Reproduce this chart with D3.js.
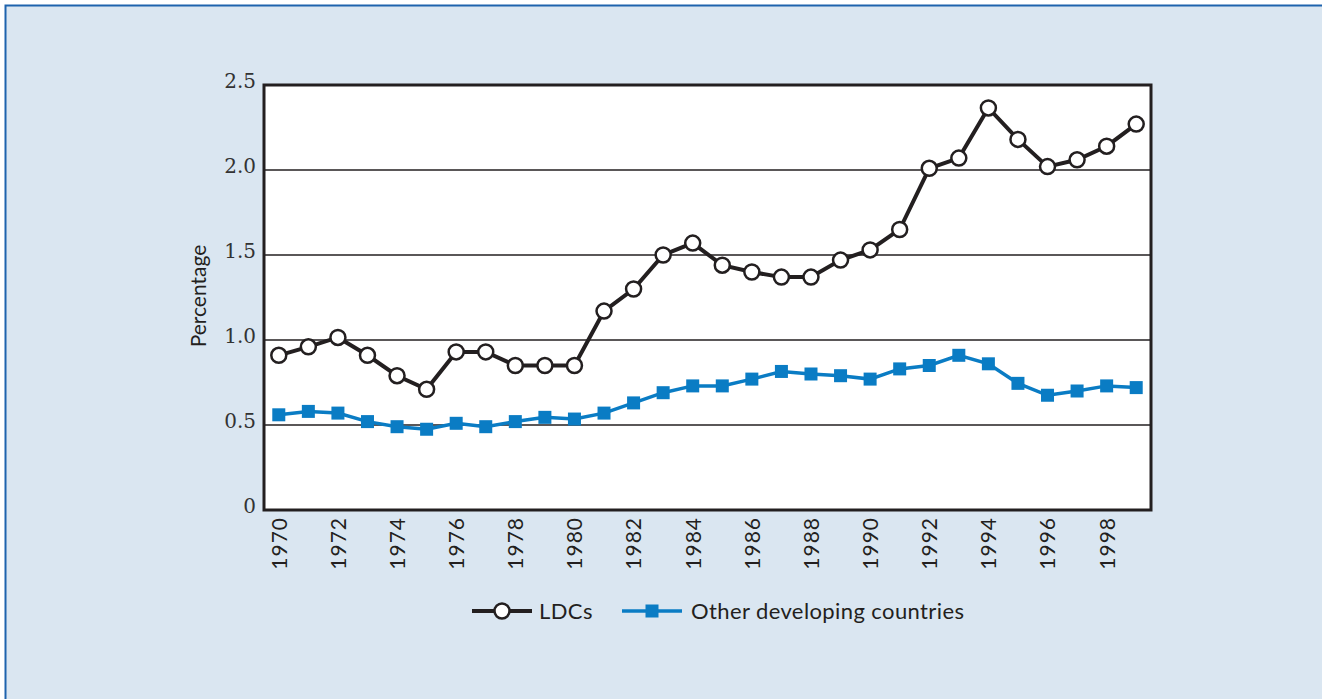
<!DOCTYPE html>
<html>
<head>
<meta charset="utf-8">
<script src="https://cdn.jsdelivr.net/npm/d3@7"></script>
<style>
  body { margin: 0; background: #ffffff; }
  text { font-family: Lato, "Open Sans", sans-serif; fill: #231f20; }
</style>
</head>
<body>
<svg id="chart" width="1322" height="699"></svg>
<script>
// data
var years = d3.range(1970, 2000);
var ldcs = [0.91, 0.96, 1.015, 0.91, 0.79, 0.71, 0.93, 0.93, 0.85, 0.85,
            0.85, 1.17, 1.30, 1.50, 1.57, 1.44, 1.40, 1.37, 1.37, 1.47,
            1.53, 1.65, 2.01, 2.07, 2.365, 2.18, 2.02, 2.06, 2.14, 2.27];
var others = [0.56, 0.58, 0.57, 0.52, 0.49, 0.475, 0.51, 0.49, 0.52, 0.545,
              0.535, 0.57, 0.63, 0.69, 0.73, 0.73, 0.77, 0.815, 0.80, 0.79,
              0.77, 0.83, 0.85, 0.91, 0.86, 0.745, 0.675, 0.70, 0.73, 0.72];
var yTicks = [0, 0.5, 1.0, 1.5, 2.0, 2.5];
var xTicks = d3.range(1970, 1999, 2);
var legendNames = ["LDCs", "Other developing countries"];

var svg = d3.select("#chart");

// panel
svg.append("rect").attr("x", 5).attr("y", 5).attr("width", 1317).attr("height", 694)
    .attr("fill", "#dae6f1");
svg.append("path").attr("d", "M5.5,699V5.5H1322")
    .attr("fill", "none").attr("stroke", "#1e63ad").attr("stroke-width", 2);

var pLeft = 264, pTop = 85, pRight = 1151, pBottom = 510;

var x = d3.scaleLinear().domain([1969.5, 1999.5]).range([pLeft, pRight]);
var y = d3.scaleLinear().domain([0, 2.5]).range([pBottom, pTop]);

svg.append("rect").attr("x", pLeft).attr("y", pTop)
    .attr("width", pRight - pLeft).attr("height", pBottom - pTop).attr("fill", "#ffffff");

// gridlines
svg.append("g").selectAll("line").data(yTicks.slice(1, -1)).enter().append("line")
    .attr("x1", pLeft).attr("x2", pRight)
    .attr("y1", d => y(d)).attr("y2", d => y(d))
    .attr("stroke", "#231f20").attr("stroke-width", 1.3);

// y axis labels
var yAxis = d3.axisLeft(y).tickValues(yTicks).tickSize(0).tickPadding(8)
    .tickFormat(d => d === 0 ? "0" : d3.format(".1f")(d));
var gy = svg.append("g").attr("transform", "translate(" + pLeft + ",0)").call(yAxis);
gy.select(".domain").remove();
gy.selectAll("text").attr("font-size", 20).attr("dy", "0.1em")
    .style("font-family", "'DejaVu Serif', serif").style("fill", "#333");

// x axis labels
var xAxis = d3.axisBottom(x).tickValues(xTicks).tickSize(0).tickFormat(d3.format("d"));
var gx = svg.append("g").attr("transform", "translate(0," + pBottom + ")").call(xAxis);
gx.select(".domain").remove();
gx.selectAll("text")
    .attr("font-size", 21)
    .attr("letter-spacing", 1)
    .attr("transform", "rotate(-90)")
    .attr("text-anchor", "end")
    .attr("x", -7).attr("y", 0).attr("dy", "0.35em");

// frame
svg.append("rect").attr("x", pLeft).attr("y", pTop)
    .attr("width", pRight - pLeft).attr("height", pBottom - pTop)
    .attr("fill", "none").attr("stroke", "#231f20").attr("stroke-width", 3);

svg.append("text").attr("transform", "translate(206,296) rotate(-90)")
    .attr("text-anchor", "middle").attr("font-size", 21).text("Percentage");

var line = d3.line().x((d, i) => x(years[i])).y(d => y(d));

// other developing countries
svg.append("path").datum(others).attr("d", line)
    .attr("fill", "none").attr("stroke", "#0a7cc4").attr("stroke-width", 3.5);
svg.append("g").selectAll("rect").data(others).enter().append("rect")
    .attr("x", (d, i) => x(years[i]) - 6.5).attr("y", d => y(d) - 6.5)
    .attr("width", 13).attr("height", 13).attr("fill", "#0a7cc4");

// LDCs
svg.append("path").datum(ldcs).attr("d", line)
    .attr("fill", "none").attr("stroke", "#231f20").attr("stroke-width", 4);
svg.append("g").selectAll("circle").data(ldcs).enter().append("circle")
    .attr("cx", (d, i) => x(years[i])).attr("cy", d => y(d)).attr("r", 7.5)
    .attr("fill", "#ffffff").attr("stroke", "#231f20").attr("stroke-width", 2.5);

// legend
var lg = svg.append("g").attr("transform", "translate(0,611)");
lg.append("line").attr("x1", 472).attr("x2", 532).attr("stroke", "#231f20").attr("stroke-width", 4);
lg.append("circle").attr("cx", 502).attr("r", 7.5).attr("fill", "#fff")
    .attr("stroke", "#231f20").attr("stroke-width", 2.5);
lg.append("text").attr("x", 539).attr("dy", "0.35em").attr("font-size", 22)
    .attr("letter-spacing", 0.4).text(legendNames[0]);
lg.append("line").attr("x1", 622).attr("x2", 682).attr("stroke", "#0a7cc4").attr("stroke-width", 3.5);
lg.append("rect").attr("x", 645.5).attr("y", -6.5).attr("width", 13).attr("height", 13).attr("fill", "#0a7cc4");
lg.append("text").attr("x", 691).attr("dy", "0.35em").attr("font-size", 22)
    .attr("letter-spacing", 0.4).text(legendNames[1]);
</script>
</body>
</html>
